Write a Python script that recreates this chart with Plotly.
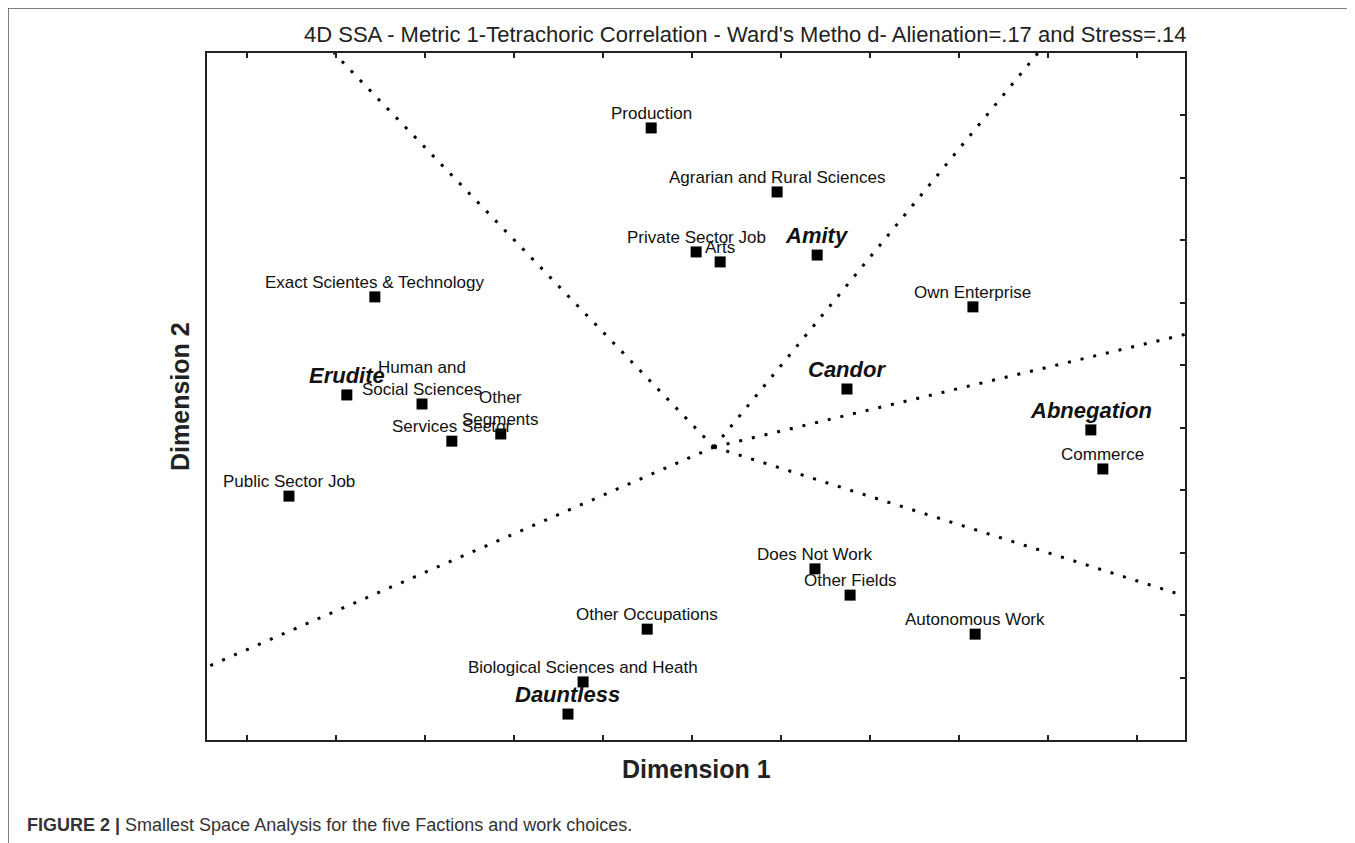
import plotly.graph_objects as go

# ---------------- data ----------------
work_labels = ["Production", "Agrarian and Rural Sciences", "Private Sector Job", "Arts",
               "Exact Scientes & Technology", "Own Enterprise", "Human and<br>Social Sciences",
               "Other<br>Segments", "Services Sector", "Commerce", "Public Sector Job",
               "Does Not Work", "Other Fields", "Autonomous Work", "Other Occupations",
               "Biological Sciences and Heath"]
work_x = [-0.091, 0.192, 0.010, 0.064, -0.712, 0.632, -0.606, -0.429, -0.539, 0.924,
          -0.905, 0.277, 0.356, 0.637, -0.100, -0.244]
work_y = [0.860, 0.655, 0.463, 0.431, 0.319, 0.287, -0.024, -0.120, -0.143, -0.232,
          -0.319, -0.552, -0.636, -0.761, -0.745, -0.914]

faction_labels = ["Amity", "Erudite", "Candor", "Abnegation", "Dauntless"]
faction_x = [0.282, -0.775, 0.349, 0.897, -0.278]
faction_y = [0.453, 0.005, 0.024, -0.107, -1.017]

# partition rays from a common centre to the plot border
ray_center = (0.050, -0.162)
ray_end_x = [-0.804, 0.778, 1.1086, 1.1086, -1.0892]
ray_end_y = [1.1, 1.1, 0.199, -0.639, -0.866]

x_range = [-1.0892, 1.1086]
y_range = [-1.1, 1.1]
x_ticks = [-1.0, -0.8, -0.6, -0.4, -0.2, 0.0, 0.2, 0.4, 0.6, 0.8, 1.0]

title_text = "4D SSA - Metric 1-Tetrachoric Correlation - Ward's Metho d- Alienation=.17 and Stress=.14"
caption_bold = "FIGURE 2 |"
caption_text = "Smallest Space Analysis for the five Factions and work choices."

FONT = "Liberation Sans, Arial, Helvetica, sans-serif"

# page has an 8px body margin: figure is drawn 8px in from the window corner
OFF = 8
L, T = 207 - OFF, 53 - OFF
PW, PH = 978, 687
W, H = 1355 - OFF, 843 - OFF


def px(xp):
    return (xp - OFF - L) / PW


def py(yp):
    return (T + PH - (yp - OFF)) / PH


fig = go.Figure()

# rays
rx, ry = [], []
for ex, ey in zip(ray_end_x, ray_end_y):
    rx += [ray_center[0], ex, None]
    ry += [ray_center[1], ey, None]
fig.add_trace(go.Scatter(x=rx, y=ry, mode="lines",
                         line=dict(color="black", width=3, dash="3px,10px"),
                         hoverinfo="skip", showlegend=False))

# markers
fig.add_trace(go.Scatter(x=work_x + faction_x, y=work_y + faction_y, mode="markers",
                         marker=dict(symbol="square", size=11, color="black"),
                         showlegend=False))

annotations = []
for t, x, y in zip(work_labels, work_x, work_y):
    annotations.append(dict(x=x, y=y, xref="x", yref="y", text=t, showarrow=False,
                            xanchor="center", yanchor="bottom", yshift=3,
                            font=dict(family=FONT, size=17, color="#111")))
for t, x, y in zip(faction_labels, faction_x, faction_y):
    annotations.append(dict(x=x, y=y, xref="x", yref="y", text="<b><i>%s</i></b>" % t,
                            showarrow=False, xanchor="center", yanchor="bottom", yshift=5,
                            font=dict(family=FONT, size=22, color="#111")))

# title
annotations.append(dict(x=px(1189), y=py(35), xref="paper", yref="paper", text=title_text,
                        showarrow=False, xanchor="right", yanchor="middle",
                        font=dict(family=FONT, size=22, color="#222")))
# axis titles
annotations.append(dict(x=px(696), y=py(769), xref="paper", yref="paper",
                        text="<b>Dimension 1</b>",
                        showarrow=False, xanchor="center", yanchor="middle",
                        font=dict(family=FONT, size=25, color="#222")))
annotations.append(dict(x=px(180), y=py(397), xref="paper", yref="paper",
                        text="<b>Dimension 2</b>",
                        showarrow=False, xanchor="center", yanchor="middle", textangle=-90,
                        font=dict(family=FONT, size=25, color="#222")))
# caption
annotations.append(dict(x=px(25), y=py(825), xref="paper", yref="paper",
                        text="<b>%s</b> %s" % (caption_bold, caption_text),
                        showarrow=False, xanchor="left", yanchor="middle",
                        font=dict(family=FONT, size=18, color="#333")))

shapes = [
    dict(type="line", xref="paper", yref="paper", x0=px(8), x1=px(1360),
         y0=py(8), y1=py(8), line=dict(color="#555", width=1.5)),
    dict(type="line", xref="paper", yref="paper", x0=px(8), x1=px(8),
         y0=py(8), y1=py(850), line=dict(color="#555", width=1.5)),
]

fig.update_layout(
    width=W, height=H,
    margin=dict(l=L, r=W - L - PW, t=T, b=H - T - PH, pad=0),
    paper_bgcolor="white", plot_bgcolor="white",
    annotations=annotations, shapes=shapes,
    showlegend=False,
    xaxis=dict(range=x_range, tickvals=x_ticks, showticklabels=False, ticks="inside",
               ticklen=5, tickwidth=1.5, tickcolor="#222", showline=True, linewidth=2,
               linecolor="#222", mirror="ticks", showgrid=False, zeroline=False),
    yaxis=dict(range=y_range, tick0=-1.1, dtick=0.2, showticklabels=False, ticks="inside",
               side="right", ticklen=5, tickwidth=1.5, tickcolor="#222", showline=True,
               linewidth=2, linecolor="#222", mirror=True, showgrid=False, zeroline=False),
)

fig.write_html("out.html")
